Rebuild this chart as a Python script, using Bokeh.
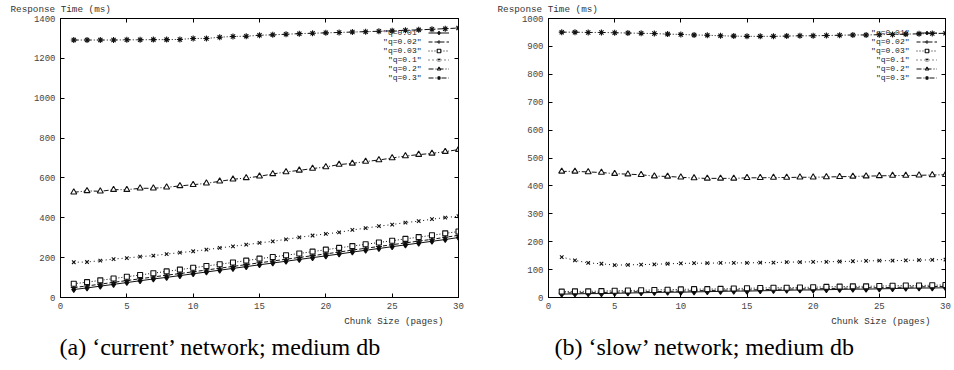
from bokeh.plotting import figure
from bokeh.layouts import row
from bokeh.models import LinearAxis, FixedTicker, Label, Legend, LegendItem, Range1d, Title
from bokeh.embed import file_html
from bokeh.resources import INLINE

# ---------------- data ----------------
chunk_size = list(range(1, 31))
series_names = ['"q=0.01"', '"q=0.02"', '"q=0.03"', '"q=0.1"', '"q=0.2"', '"q=0.3"']
x_ticks = [0, 5, 10, 15, 20, 25, 30]
y_ticks_current = [0, 200, 400, 600, 800, 1000, 1200, 1400]
y_ticks_slow = [0, 100, 200, 300, 400, 500, 600, 700, 800, 900, 1000]

current_q001 = [40, 48, 57, 66, 75, 84, 93, 101, 110, 119, 128, 137, 146, 155, 164,
                173, 182, 191, 200, 209, 218, 228, 237, 246, 255, 264, 273, 282, 291, 301]
current_q002 = [50, 58, 67, 76, 85, 94, 103, 112, 120, 129, 138, 147, 156, 165, 174,
                183, 192, 201, 210, 219, 228, 238, 247, 256, 265, 274, 283, 292, 302, 312]
current_q003 = [69, 77, 86, 95, 104, 113, 122, 131, 140, 149, 158, 167, 176, 185, 195,
                203, 212, 221, 230, 240, 249, 258, 267, 276, 285, 294, 303, 312, 322, 331]
current_q01 = [177, 178, 185, 193, 198, 205, 210, 218, 225, 232, 240, 249, 257, 265, 274,
               282, 292, 302, 311, 319, 327, 339, 348, 358, 366, 376, 383, 393, 401, 408]
current_q02 = [528, 535, 533, 541, 541, 548, 548, 553, 560, 566, 573, 583, 593, 600, 608,
               620, 630, 638, 647, 655, 667, 673, 682, 690, 700, 710, 717, 723, 732, 742]
current_q03 = [1292, 1292, 1292, 1292, 1293, 1293, 1294, 1294, 1295, 1300, 1300, 1306, 1310, 1311, 1316,
               1318, 1321, 1324, 1326, 1328, 1330, 1332, 1334, 1336, 1338, 1341, 1343, 1346, 1349, 1352]

slow_q001 = [12, 13, 14, 14, 15, 16, 17, 18, 19, 19, 20, 21, 22, 23, 23,
             24, 25, 26, 27, 27, 28, 29, 30, 30, 31, 32, 33, 34, 34, 35]
slow_q002 = [16, 17, 17, 18, 19, 20, 21, 21, 22, 23, 24, 25, 26, 27, 27,
             28, 29, 30, 31, 31, 32, 33, 34, 35, 35, 36, 37, 38, 39, 40]
slow_q003 = [21, 22, 22, 23, 24, 25, 26, 27, 28, 29, 30, 30, 31, 32, 33,
             34, 35, 35, 36, 37, 38, 39, 40, 40, 41, 42, 43, 43, 44, 45]
slow_q01 = [145, 133, 124, 121, 116, 117, 118, 119, 121, 122, 123, 123, 124, 124, 124,
            125, 125, 127, 127, 128, 128, 129, 130, 131, 132, 132, 133, 134, 135, 136]
slow_q02 = [452, 452, 450, 448, 444, 442, 440, 435, 434, 431, 428, 427, 427, 427, 429,
            429, 430, 430, 431, 431, 432, 433, 434, 435, 436, 437, 437, 438, 439, 440]
slow_q03 = [951, 951, 950, 950, 949, 948, 947, 946, 944, 943, 941, 940, 938, 937, 936,
            936, 936, 937, 938, 938, 939, 940, 941, 941, 942, 943, 944, 945, 946, 947]

current_series = [current_q001, current_q002, current_q003, current_q01, current_q02, current_q03]
slow_series = [slow_q001, slow_q002, slow_q003, slow_q01, slow_q02, slow_q03]

# ---------------- styles ----------------
dashes = ["solid", "4 2", "1 2", "1 3", "5 2 1 2", "5 2 1 2 1 2"]
markers = ["diamond", "cross", "square", "x", "triangle", "asterisk"]
marker_fill = ["black", None, "white", None, "white", None]
marker_size = [6, 6, 5, 5, 6, 6]
INK = "#111111"
MONO = "Liberation Mono"

FRAME_H = 279


def make_panel(series, y_max, y_ticks, caption, frame_w, border_left, border_right,
               ylab_offset, caption_offset):
    p = figure(frame_width=frame_w, frame_height=FRAME_H,
               x_range=Range1d(0, 30), y_range=Range1d(0, y_max),
               output_backend="svg", toolbar_location=None,
               min_border_left=border_left, min_border_right=border_right,
               min_border_top=18, min_border_bottom=73)
    p.grid.visible = False
    p.outline_line_color = "black"
    p.outline_line_width = 1
    p.background_fill_color = "white"
    p.border_fill_color = "white"

    for ax, ticks in ((p.xaxis[0], x_ticks), (p.yaxis[0], y_ticks)):
        ax.ticker = FixedTicker(ticks=ticks)
        ax.major_tick_in = 4
        ax.major_tick_out = 0
        ax.minor_tick_in = 0
        ax.minor_tick_out = 0
        ax.axis_line_color = "black"
        ax.major_tick_line_color = "black"
        ax.major_label_text_font = MONO
        ax.major_label_text_font_size = "9px"
        ax.major_label_text_color = "#444444"
        ax.major_label_standoff = 5

    for loc, ticks in (("right", y_ticks), ("above", x_ticks)):
        ax = LinearAxis(ticker=FixedTicker(ticks=ticks),
                        major_label_overrides={t: "" for t in ticks},
                        major_label_text_font_size="0px", major_label_standoff=0,
                        major_tick_in=4, major_tick_out=0,
                        minor_tick_in=0, minor_tick_out=0,
                        axis_line_color="black", major_tick_line_color="black")
        p.add_layout(ax, loc)

    items = []
    for i, ys in enumerate(series):
        lr = p.line(chunk_size, ys, line_color=INK, line_width=1, line_dash=dashes[i])
        sr = p.scatter(chunk_size, ys, marker=markers[i], size=marker_size[i],
                       line_color=INK, line_width=1.1,
                       fill_color=marker_fill[i] if marker_fill[i] else INK)
        items.append(LegendItem(label="", renderers=[lr, sr]))

    # legend key texts (right aligned, gnuplot style) + sample glyphs
    for i, name in enumerate(series_names):
        p.add_layout(Label(x=361, y=FRAME_H - 14 - 9 * i, x_units="screen", y_units="screen",
                           text=name, text_align="right", text_baseline="middle",
                           text_font=MONO, text_font_size="8px", text_color="#222222"))
    legend = Legend(items=items, location=(368, FRAME_H - 9.5 - 54),
                    glyph_width=21, glyph_height=9, label_width=0, label_height=9,
                    label_standoff=0, padding=0, margin=0, spacing=0,
                    border_line_color=None, background_fill_alpha=0)
    p.add_layout(legend)

    # y axis title above the frame, top-left (gnuplot style)
    p.add_layout(Title(text="Response Time (ms)", align="left", offset=ylab_offset,
                       standoff=4, vertical_align="top",
                       text_font=MONO, text_font_size="9.3px", text_font_style="normal",
                       text_color="#333333"), "above")
    # x axis title, bottom-right
    p.add_layout(Title(text="Chunk Size (pages)", align="right", offset=15,
                       standoff=8, vertical_align="top",
                       text_font=MONO, text_font_size="9.2px", text_font_style="normal",
                       text_color="#333333"), "below")
    # caption
    p.add_layout(Title(text=caption, align="left", offset=caption_offset,
                       standoff=2, vertical_align="top",
                       text_font="Liberation Serif", text_font_size="24px",
                       text_font_style="normal", text_color="black"), "below")
    return p


pa = make_panel(current_series, 1400, y_ticks_current,
                "(a) \u2018current\u2019 network; medium db", 398, 60, 38, -50, -1)
pb = make_panel(slow_series, 1000, y_ticks_slow,
                "(b) \u2018slow\u2019 network; medium db", 397, 52, 9, -51, 6)

layout = row(pa, pb, spacing=0)
open("out.html", "w").write(file_html(layout, INLINE))
